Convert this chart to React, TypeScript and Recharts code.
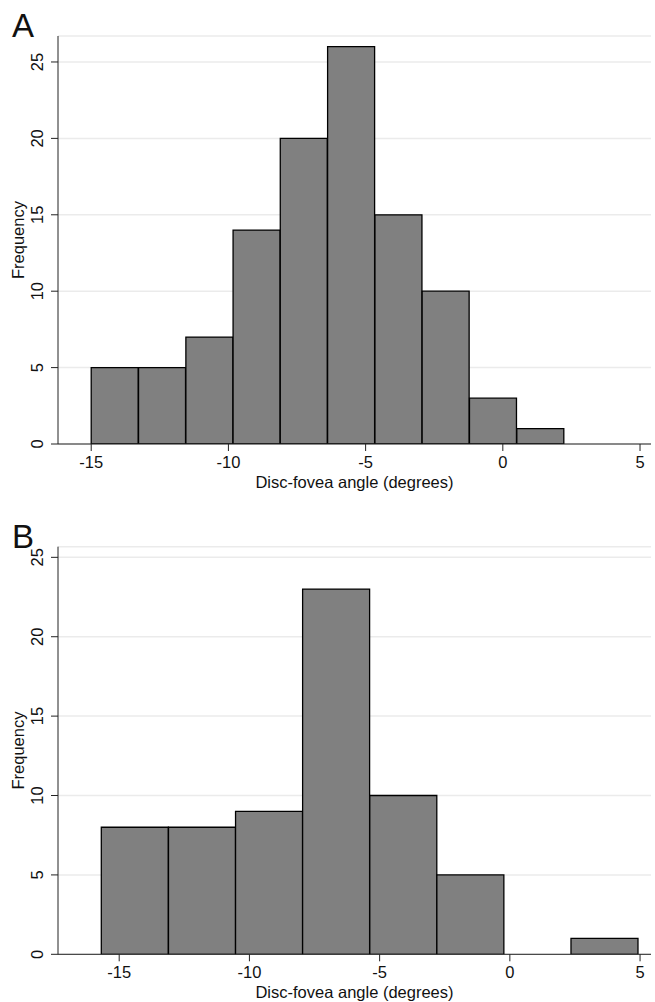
import React from "react";
import { BarChart, Bar, XAxis, YAxis, CartesianGrid, Label } from "recharts";

// bin edges and counts
const edgesA = [-15.0, -13.28, -11.55, -9.83, -8.11, -6.39, -4.66, -2.94, -1.22, 0.51, 2.23];
const countsA = [5, 5, 7, 14, 20, 26, 15, 10, 3, 1];
const edgesB = [-15.69, -13.11, -10.53, -7.96, -5.38, -2.8, -0.23, 2.35, 4.92];
const countsB = [8, 8, 9, 23, 10, 5, 0, 1];

const xTicks = [-15, -10, -5, 0, 5];
const yTicks = [0, 5, 10, 15, 20, 25];
const xTitle = "Disc-fovea angle (degrees)";
const yTitle = "Frequency";

const FONT = "'Liberation Sans', Arial, Helvetica, sans-serif";
const INK = "#111";

const toBins = (edges: number[], counts: number[]) =>
  counts.map((c, i) => ({ mid: (edges[i] + edges[i + 1]) / 2, count: c }));

const YTick = (props: any) => {
  const { x, y, payload } = props;
  return (
    <text
      transform={`translate(${x},${y}) rotate(-90)`}
      textAnchor="middle"
      fontSize={16.5}
      fill={INK}
      fontFamily={FONT}
    >
      {payload.value}
    </text>
  );
};

type PanelProps = {
  letter: string;
  edges: number[];
  counts: number[];
  xDomain: [number, number];
  yDomain: [number, number];
  height: number;
  top: number;
  axisHeight: number;
};

const Panel: React.FC<PanelProps> = ({ letter, edges, counts, xDomain, yDomain, height, top, axisHeight }) => {
  const data = toBins(edges, counts);
  return (
    <BarChart
      width={655}
      height={height}
      data={data}
      margin={{ top, right: 4, left: 0, bottom: 0 }}
      barCategoryGap={0}
      barGap={0}
    >
      <text x={12} y={top + 1} fontSize={33} fill={INK} fontFamily={FONT}>
        {letter}
      </text>
      <CartesianGrid vertical={false} stroke="#ebebeb" strokeWidth={1.5} />
      <XAxis
        dataKey="mid"
        type="number"
        domain={xDomain}
        ticks={xTicks}
        allowDataOverflow
        height={axisHeight}
        tickSize={7}
        tickMargin={5}
        stroke="#222"
        tick={{ fill: INK, fontSize: 16.5, fontFamily: FONT }}
      >
        <Label
          value={xTitle}
          position="insideTop"
          offset={32}
          fill={INK}
          fontSize={16.5}
          fontFamily={FONT}
        />
      </XAxis>
      <YAxis
        type="number"
        domain={yDomain}
        ticks={yTicks}
        allowDataOverflow
        width={58}
        tickSize={7}
        tickMargin={8}
        stroke="#222"
        tick={<YTick />}
      >
        <Label
          value={yTitle}
          angle={-90}
          position="insideLeft"
          offset={18}
          fill={INK}
          fontSize={16.5}
          fontFamily={FONT}
          style={{ textAnchor: "middle" }}
        />
      </YAxis>
      <Bar
        dataKey="count"
        fill="#808080"
        stroke="#000"
        strokeWidth={1.3}
        isAnimationActive={false}
      />
    </BarChart>
  );
};

export default function App() {
  return (
    <div style={{ position: "absolute", left: 0, top: 0, width: 655, height: 1002, background: "#fff", fontFamily: FONT }}>
      <Panel
        letter="A"
        edges={edgesA}
        counts={countsA}
        xDomain={[-16.21, 5.4]}
        yDomain={[0, 26.7]}
        height={500}
        top={36}
        axisHeight={56}
      />
      <Panel
        letter="B"
        edges={edgesB}
        counts={countsB}
        xDomain={[-17.35, 5.42]}
        yDomain={[0, 25.67]}
        height={502}
        top={46.7}
        axisHeight={47.7}
      />
    </div>
  );
}
